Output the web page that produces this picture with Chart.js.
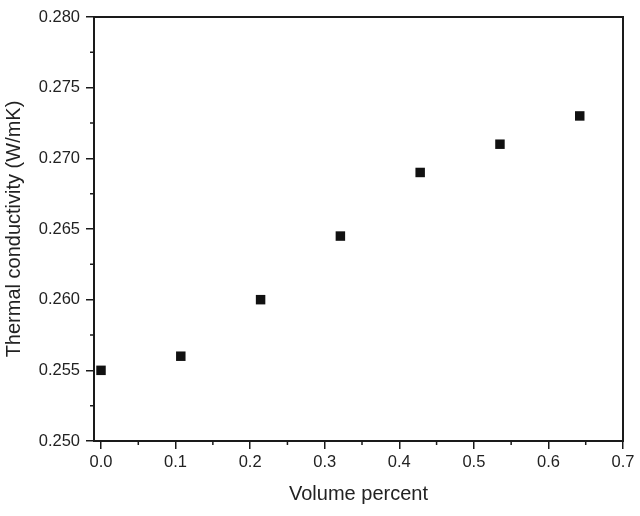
<!DOCTYPE html>
<html>
<head>
<meta charset="utf-8">
<script src="https://cdn.jsdelivr.net/npm/chart.js@4"></script>
<style>
html,body{margin:0;padding:0;background:#fff;}
#wrap{width:640px;height:516px;}
</style>
</head>
<body>
<div id="wrap"><canvas id="c" width="640" height="516"></canvas></div>
<script>
const volumePercent = [0.0, 0.107, 0.214, 0.321, 0.428, 0.535, 0.642];
const conductivity = [0.255, 0.256, 0.260, 0.2645, 0.269, 0.271, 0.273];
const xTicks = [0.0, 0.1, 0.2, 0.3, 0.4, 0.5, 0.6, 0.7];
const yTicks = [0.250, 0.255, 0.260, 0.265, 0.270, 0.275, 0.280];
const xTitle = 'Volume percent';
const yTitle = 'Thermal conductivity (W/mK)';

const AX = '#1a1a1a';
const FONT = '"Liberation Sans", Arial, sans-serif';

const frame = {
  id: 'frame',
  afterDraw(chart) {
    const {ctx, chartArea: a, scales: {x, y}} = chart;
    ctx.save();
    ctx.strokeStyle = AX;
    ctx.lineWidth = 2;
    ctx.beginPath();
    ctx.moveTo(a.left - 1, a.top);
    ctx.lineTo(a.right, a.top);
    ctx.lineTo(a.right, a.bottom + 1);
    ctx.stroke();
    // minor ticks
    ctx.lineWidth = 1.5;
    ctx.beginPath();
    for (let i = 0; i < xTicks.length - 1; i++) {
      const px = x.getPixelForValue((xTicks[i] + xTicks[i + 1]) / 2);
      ctx.moveTo(px, a.bottom);
      ctx.lineTo(px, a.bottom + 4);
    }
    for (let i = 0; i < yTicks.length - 1; i++) {
      const py = y.getPixelForValue((yTicks[i] + yTicks[i + 1]) / 2);
      ctx.moveTo(a.left, py);
      ctx.lineTo(a.left - 4, py);
    }
    ctx.stroke();
    ctx.restore();
  }
};

new Chart(document.getElementById('c'), {
  type: 'scatter',
  data: {
    datasets: [{
      data: volumePercent.map((v, i) => ({x: v, y: conductivity[i]})),
      pointStyle: 'rect',
      pointRadius: 6.7,
      pointHoverRadius: 6.7,
      pointBorderWidth: 0,
      backgroundColor: '#111',
      borderColor: '#111'
    }]
  },
  options: {
    responsive: false,
    animation: false,
    devicePixelRatio: 1,
    layout: {padding: {top: 17, right: 17, left: 0, bottom: 0}},
    plugins: {legend: {display: false}, tooltip: {enabled: false}},
    scales: {
      x: {
        type: 'linear',
        min: -0.0094,
        max: 0.7,
        afterBuildTicks: s => { s.ticks = xTicks.map(v => ({value: v})); },
        afterFit: s => { s.height = 75; },
        border: {display: true, color: AX, width: 2},
        grid: {display: true, drawOnChartArea: false, drawTicks: true, tickLength: 8, color: AX, lineWidth: 1.5},
        ticks: {color: '#222', padding: 4, font: {family: FONT, size: 16.5}, maxRotation: 0,
          callback: v => Number(v).toFixed(1)},
        title: {display: true, text: xTitle, color: '#222', font: {family: FONT, size: 20}, padding: {top: 0, bottom: 10}}
      },
      y: {
        type: 'linear',
        min: 0.250,
        max: 0.280,
        afterBuildTicks: s => { s.ticks = yTicks.map(v => ({value: v})); },
        afterFit: s => { s.width = 94; },
        border: {display: true, color: AX, width: 2},
        grid: {display: true, drawOnChartArea: false, drawTicks: true, tickLength: 8, color: AX, lineWidth: 1.5},
        ticks: {color: '#222', padding: 6, font: {family: FONT, size: 16.5},
          callback: v => Number(v).toFixed(3)},
        title: {display: true, text: yTitle, color: '#222', font: {family: FONT, size: 20}, padding: {top: 2, bottom: 0}}
      }
    }
  },
  plugins: [frame]
});
</script>
</body>
</html>
